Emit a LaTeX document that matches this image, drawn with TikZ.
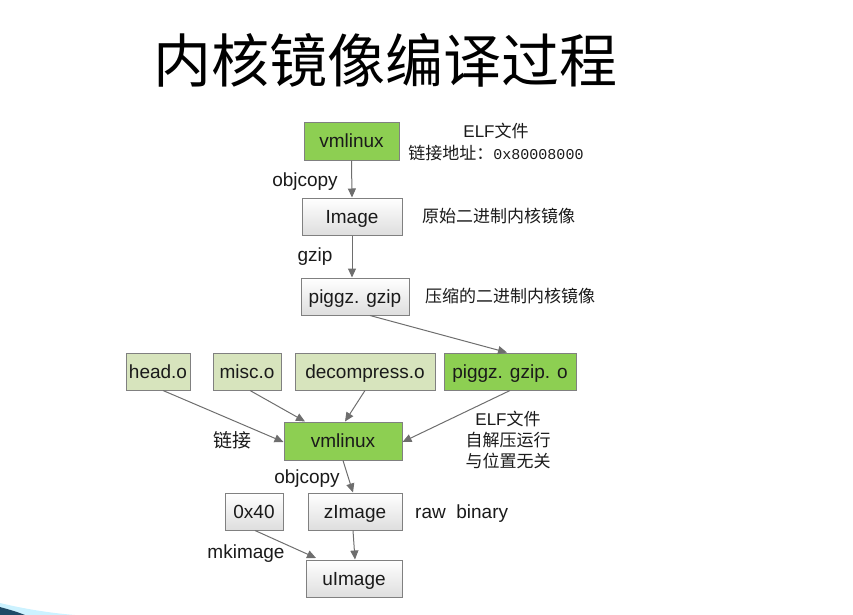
\documentclass[tikz,border=0pt]{standalone}
\usepackage{fontspec}
\setmainfont{Liberation Sans}
\newfontfamily\cjk{Noto Sans CJK SC}
\newfontfamily\monof{Liberation Mono}
\usetikzlibrary{arrows.meta}
\definecolor{grn}{HTML}{8DCF52}
\definecolor{lgrn}{HTML}{D7E4BD}
\definecolor{bord}{HTML}{808080}
\definecolor{arr}{HTML}{6E6E6E}
\definecolor{txt}{HTML}{1A1A1A}
\definecolor{swoosh}{HTML}{1F4A66}
\tikzset{
  box/.style={draw=bord, line width=1pt, inner sep=0pt, text=txt,
    text height=13pt, text depth=0pt,
    font=\fontsize{19}{22}\selectfont},
  graybox/.style={box, top color=white, bottom color=black!13},
  greenbox/.style={box, fill=grn},
  lightbox/.style={box, fill=lgrn},
  conn/.style={draw=arr, line width=1pt, -{Triangle[length=9pt,width=8pt]}},
  lab/.style={inner sep=0pt, text=txt, font=\fontsize{19}{22}\selectfont},
  cnlab/.style={inner sep=0pt, text=txt, font=\cjk\fontsize{17}{21}\selectfont, align=center},
}
\begin{document}
\begin{tikzpicture}[x=1pt,y=-1pt]
\useasboundingbox (0,0) rectangle (853,615);
% decorative swoosh
\fill[blue!25!cyan!20] (0,603) .. controls (25,609) and (50,613) .. (75,615) -- (25,615) .. controls (15,611) and (7,609) .. (0,607) -- cycle;
\fill[swoosh] (0,607) .. controls (7,609) and (15,611) .. (25,615) -- (0,615) -- cycle;

% title
\node[inner sep=0pt, font=\cjk\fontsize{58}{60}\selectfont] (title) at (385,60) {内核镜像编译过程};

% boxes
\node[greenbox, minimum width=95pt, minimum height=38pt] (v1) at (351.5,141) {vmlinux};
\node[graybox, minimum width=100pt, minimum height=37pt] (img) at (352,216.5) {Image};
\node[graybox, minimum width=108pt, minimum height=37pt] (pg) at (355,296.5) {piggz. gzip};
\node[lightbox, minimum width=64pt, minimum height=37pt] (head) at (158,371.5) {head.o};
\node[lightbox, minimum width=68pt, minimum height=37pt] (misc) at (247,371.5) {misc.o};
\node[lightbox, minimum width=140pt, minimum height=37pt] (dec) at (365,371.5) {decompress.o};
\node[greenbox, minimum width=132pt, minimum height=37pt] (pgo) at (510,371.5) {piggz. gzip. o};
\node[greenbox, minimum width=118pt, minimum height=38pt] (v2) at (343,441) {vmlinux};
\node[graybox, minimum width=58pt, minimum height=37pt] (hex) at (254,511.5) {0x40};
\node[graybox, minimum width=94pt, minimum height=37pt] (z) at (355,511.5) {zImage};
\node[graybox, minimum width=96pt, minimum height=37pt] (u) at (354,578.5) {uImage};

% connectors
\draw[conn] (v1.south) -- (img.north);
\draw[conn] (img.south) -- (pg.north -| img.south);
\draw[conn] ([xshift=15pt]pg.south) -- ([xshift=-3pt]pgo.north);
\draw[conn] ([xshift=5pt]head.south) -- ([yshift=-1pt]v2.west);
\draw[conn] ([xshift=3pt]misc.south) -- ([xshift=-38pt]v2.north);
\draw[conn] (dec.south) -- ([xshift=2pt]v2.north);
\draw[conn] (pgo.south) -- ([yshift=-1pt]v2.east);
\draw[conn] (v2.south) -- ([xshift=-2pt]z.north);
\draw[conn] ([xshift=-2pt]z.south) -- (z.south |- u.north);
\coordinate (uin) at (316,558);
\draw[conn] ([xshift=1pt]hex.south) -- (uin);

% labels
\node[cnlab, anchor=base] (elf1) at (496,137) {{\fontsize{17}{21}\selectfont\rmfamily ELF}文件};
\node[cnlab, anchor=base] (addr) at (496,159) {链接地址：{\monof\fontsize{15}{18}\selectfont 0x80008000}};
\node[lab, anchor=base] (oc1) at (305,186) {objcopy};
\node[cnlab, anchor=base west] (raw1) at (422,222) {原始二进制内核镜像};
\node[lab, anchor=base] (gz) at (315,261) {gzip};
\node[cnlab, anchor=base west] (cmp) at (425,302) {压缩的二进制内核镜像};
\node[cnlab, anchor=base, font=\cjk\fontsize{19}{22}\selectfont] (link) at (232,447) {链接};
\node[cnlab, anchor=base] (elf2) at (508,425) {{\fontsize{17}{21}\selectfont\rmfamily ELF}文件};
\node[cnlab, anchor=base] (self) at (508,446) {自解压运行};
\node[cnlab, anchor=base] (pos) at (508,467) {与位置无关};
\node[lab, anchor=base] (oc2) at (307,483) {objcopy};
\node[lab, anchor=base west] (rb) at (415,518) {raw\ \ binary};
\node[lab, anchor=base] (mk) at (246,558) {mkimage};
\end{tikzpicture}
\end{document}
